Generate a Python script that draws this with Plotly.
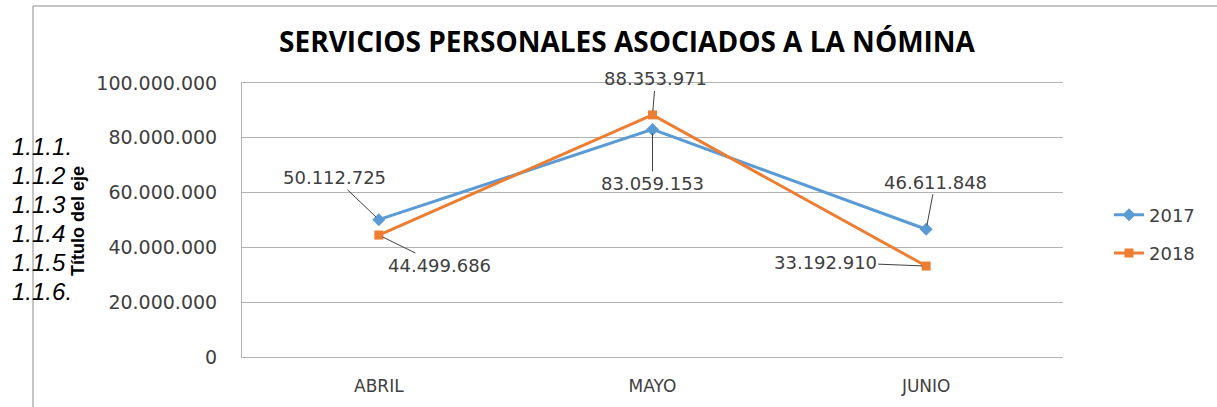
import plotly.graph_objects as go

meses = ['ABRIL', 'MAYO', 'JUNIO']
serie_2017 = [50112725, 83059153, 46611848]
serie_2018 = [44499686, 88353971, 33192910]
ticks_y = [0, 20000000, 40000000, 60000000, 80000000, 100000000]
numeracion = ['1.1.1.', '1.1.2', '1.1.3', '1.1.4', '1.1.5', '1.1.6.']

W, H = 1217, 407
L, R, T, B = 242, 154, 83, 50
pw, ph = W - L - R, H - T - B


def px(x):
    return (x - L) / pw


def py(y):
    return (H - B - y) / ph


def fmt(v):
    return f"{v:,}".replace(",", ".")


azul = '#5B9BD5'
naranja = '#ED7D31'
gris = '#404040'

fig = go.Figure()

fig.add_trace(go.Scatter(x=meses, y=serie_2017, mode='lines+markers', name='2017',
                         legendgroup='a',
                         line=dict(color=azul, width=3),
                         marker=dict(symbol='diamond', size=10, color=azul)))

fig.add_trace(go.Scatter(x=meses, y=serie_2018, mode='lines+markers', name='2018',
                         legendgroup='b',
                         line=dict(color=naranja, width=3),
                         marker=dict(symbol='square', size=9, color=naranja)))

# etiquetas de datos con lineas guia (desplazamiento en px)
offs_2017 = [(-44, -42), (0, 54), (9, -47)]
offs_2018 = [(61, 30), (3, -36), (-101, -4)]
for serie, offs in ((serie_2017, offs_2017), (serie_2018, offs_2018)):
    for m, v, (ax, ay) in zip(meses, serie, offs):
        fig.add_annotation(x=m, y=v, text=fmt(v), showarrow=True, arrowhead=0,
                           arrowwidth=1, arrowcolor=gris, ax=ax, ay=ay, standoff=4,
                           font=dict(family='DejaVu Sans', size=18, color=gris))

# numeracion a la izquierda
for i, t in enumerate(numeracion):
    fig.add_annotation(xref='paper', yref='paper', x=px(10), y=py(146 + i * 29),
                       text='<i>' + t + '</i>', showarrow=False,
                       xanchor='left', yanchor='middle',
                       font=dict(family='Liberation Sans', size=24, color='black'))

fig.add_annotation(xref='paper', yref='paper', x=px(78), y=py(221),
                   text='<b>Título del eje</b>', showarrow=False, textangle=-90,
                   xanchor='center', yanchor='middle',
                   font=dict(family='Liberation Sans', size=18, color='black'))

# marco del grafico
fig.add_shape(type='line', xref='paper', yref='paper', x0=px(33), x1=px(W + 5),
              y0=py(6), y1=py(6), line=dict(color='#8c8c8c', width=1))
fig.add_shape(type='line', xref='paper', yref='paper', x0=px(33), x1=px(33),
              y0=py(6), y1=py(H + 5), line=dict(color='#8c8c8c', width=1))

fig.update_layout(
    width=W, height=H,
    margin=dict(l=L, r=R, t=T, b=B),
    paper_bgcolor='white', plot_bgcolor='white',
    separators=',.',
    title=dict(text='<b>SERVICIOS PERSONALES ASOCIADOS A LA NÓMINA</b>',
               x=627 / W, y=1 - 42 / H, xanchor='center', yanchor='middle',
               font=dict(family='Open Sans', size=28, color='black')),
    xaxis=dict(range=[-0.5, 2.5], showgrid=False, showline=True, mirror=True,
               linecolor='#b3b3b3', zeroline=False,
               tickfont=dict(family='DejaVu Sans', size=17, color=gris),
               ticklabelstandoff=14),
    yaxis=dict(range=[0, 100000000], tickvals=ticks_y, tickformat=',d',
               showgrid=True, gridcolor='#b3b3b3', gridwidth=1,
               showline=True, linecolor='#b3b3b3', zeroline=False,
               tickfont=dict(family='DejaVu Sans', size=19, color=gris),
               ticklabelstandoff=20),
    legend=dict(x=px(1109), y=py(234), xanchor='left', yanchor='middle',
                tracegroupgap=12, font=dict(family='DejaVu Sans', size=18, color=gris)),
    showlegend=True,
)

fig.write_html("out.html", config={'displayModeBar': False},
               post_script="document.body.style.margin='0';")
